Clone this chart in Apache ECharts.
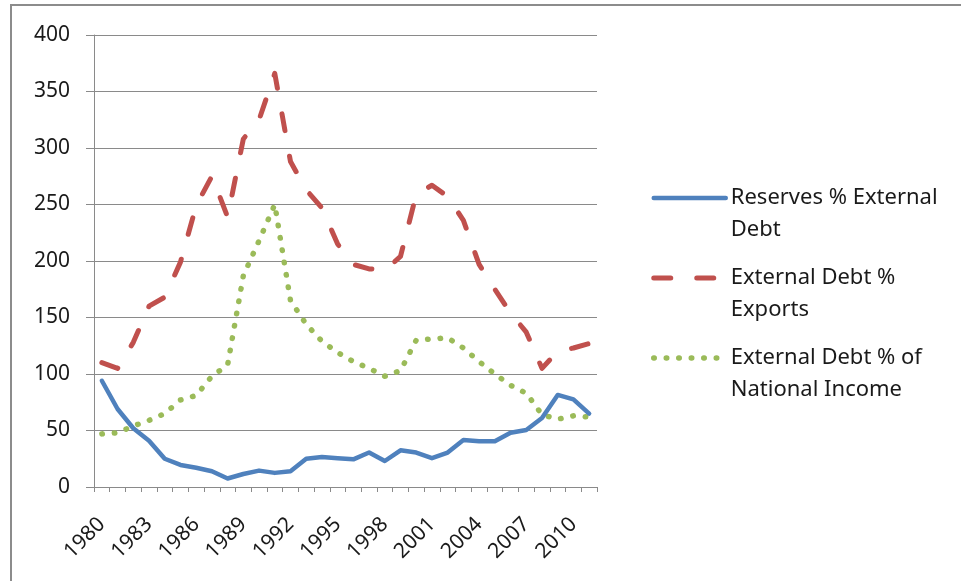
<!DOCTYPE html>
<html>
<head>
<meta charset="utf-8">
<script src="https://cdn.jsdelivr.net/npm/echarts@6/dist/echarts.min.js"></script>
<style>
html,body{margin:0;padding:0;background:#fff;}
#chart{width:961px;height:581px;}
</style>
</head>
<body>
<div id="chart"></div>
<script>
var years = [];
for (var y = 1980; y <= 2011; y++) years.push(String(y));

var seriesNames = ['Reserves % External\nDebt', 'External Debt %\nExports', 'External Debt % of\nNational Income'];

var reserves = [94, 69, 52, 41, 25, 19.5, 17, 14, 7.5, 11.5, 14.5, 12.5, 14, 25, 26.5, 25.5, 24.5, 30.5, 23, 32.5, 30.5, 25.5, 30.5, 41.5, 40.5, 40.5, 48, 50.5, 61, 81.5, 77.5, 65];
var debtExports = [110, 105, 128, 160, 168, 199, 249, 275, 239, 308, 325, 366, 288, 263, 247, 215, 197, 193, 192, 204, 259, 267, 257, 236, 197, 175, 154, 137, 105, 120, 123, 127];
var debtIncome = [47, 48, 54, 59, 65, 77, 81, 98, 108, 187, 218, 250, 165, 144, 129, 119, 111, 105, 98, 103, 130, 131, 132, 123, 111, 100, 90, 83, 64, 60, 63, 62];

var colors = ['#4F81BD', '#C0504D', '#9BBB59'];
var lineStyles = [
  {color: colors[0], width: 4.5, type: 'solid', cap: 'round', join: 'round'},
  {color: colors[1], width: 5, type: [17, 26], cap: 'round', join: 'round'},
  {color: colors[2], width: 5.5, type: [0.5, 12], cap: 'round', join: 'round'}
];

var chart = echarts.init(document.getElementById('chart'), null, {renderer: 'canvas'});
var font = '"Noto Sans", "Open Sans", sans-serif';

chart.setOption({
  animation: false,
  backgroundColor: '#fff',
  graphic: [{
    type: 'rect',
    shape: {x: 11, y: 5, width: 1200, height: 1200},
    style: {fill: 'none', stroke: '#8c8c8c', lineWidth: 2},
    silent: true,
    z: 0
  }],
  grid: {left: 94, right: 364, top: 35, bottom: 94, containLabel: false},
  legend: {
    orient: 'vertical',
    left: 651,
    top: 150,
    padding: 0,
    itemWidth: 72,
    itemHeight: 10,
    itemGap: -16,
    selectedMode: false,
    itemStyle: {color: 'rgba(0,0,0,0)', borderWidth: 0, opacity: 0},
    formatter: function (name) { return '\n' + name; },
    textStyle: {
      fontFamily: font,
      fontSize: 22,
      lineHeight: 32,
      color: '#1a1a1a'
    },
    data: seriesNames.map(function (n, i) {
      return {name: n, lineStyle: lineStyles[i], itemStyle: {color: 'rgba(0,0,0,0)', borderWidth: 0, opacity: 0}};
    })
  },
  xAxis: {
    type: 'category',
    data: years,
    boundaryGap: true,
    axisLine: {lineStyle: {color: '#8a8a8a', width: 1}},
    axisTick: {show: true, length: 5, interval: 0, alignWithLabel: false, lineStyle: {color: '#8a8a8a'}},
    axisLabel: {
      interval: 2,
      rotate: 45,
      margin: 34,
      fontFamily: font,
      fontSize: 21,
      color: '#1a1a1a'
    },
    splitLine: {show: false}
  },
  yAxis: {
    type: 'value',
    min: 0,
    max: 400,
    interval: 50,
    axisLine: {show: true, lineStyle: {color: '#8a8a8a', width: 1}},
    axisTick: {show: true, length: 8, lineStyle: {color: '#8a8a8a'}},
    axisLabel: {
      margin: 24,
      fontFamily: font,
      fontSize: 21,
      color: '#1a1a1a'
    },
    splitLine: {show: true, lineStyle: {color: '#8a8a8a', width: 1}}
  },
  series: [
    {
      name: seriesNames[0],
      type: 'line',
      data: reserves,
      symbol: 'none',
      color: colors[0],
      lineStyle: lineStyles[0],
      z: 4
    },
    {
      name: seriesNames[1],
      type: 'line',
      data: debtExports,
      symbol: 'none',
      color: colors[1],
      lineStyle: lineStyles[1],
      z: 3
    },
    {
      name: seriesNames[2],
      type: 'line',
      data: debtIncome,
      symbol: 'none',
      color: colors[2],
      lineStyle: lineStyles[2],
      z: 2
    }
  ]
});
</script>
</body>
</html>
